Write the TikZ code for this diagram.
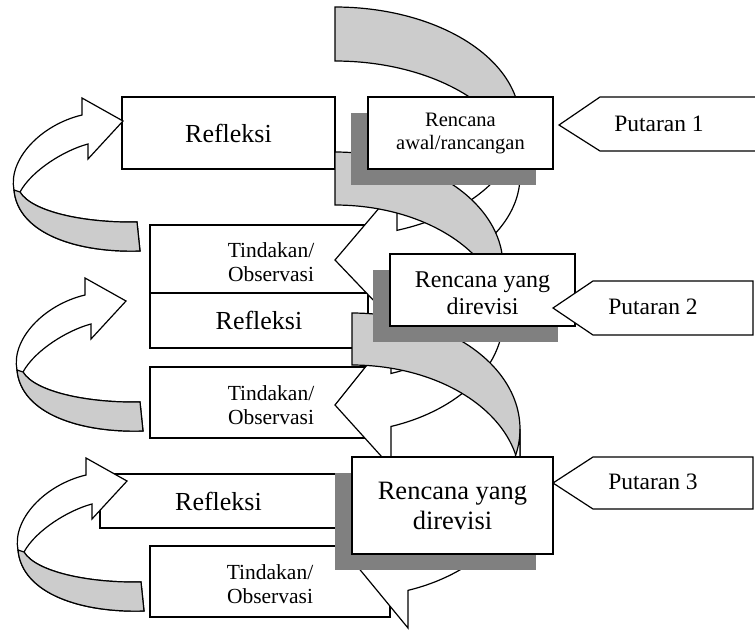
\documentclass[tikz,border=0pt]{standalone}
\usepackage{fontspec}
\setmainfont{Liberation Serif}
\usetikzlibrary{shadows}
\definecolor{bandgray}{RGB}{204,204,204}
\definecolor{shadegray}{RGB}{128,128,128}
\tikzset{
  outl/.style={draw=black,line width=1.2pt,line join=miter},
  bandback/.style={outl,fill=bandgray},
  bandfront/.style={outl,fill=white},
  box/.style={outl,fill=white,inner sep=0pt,align=center},
  shbox/.style={box,drop shadow={shadow xshift=-17pt,shadow yshift=-16pt,fill=shadegray,opacity=1}},
  txt/.style={inner sep=0pt,align=center},
  tagshape/.style={outl,fill=white},
  fRef/.style={font=\fontsize{26}{30}\selectfont},
  fTin/.style={font=\fontsize{21.5}{24.5}\selectfont},
  fPut/.style={font=\fontsize{23.5}{27}\selectfont},
}
% curved arrow (band on the right, head pointing left)
% #1 l, #2 t, #3 w, #4 hR, #5 th, #6 x1, #7 y4, #8 tip y, #9 y8
\newcommand\cvarrow[9]{%
  \pgfmathsetmacro\cvA{#2+#4}%
  \pgfmathsetmacro\cvB{#2+#4+#5}%
  \pgfmathsetmacro\cvAl{acos((#6-#1)/#3)}%
  \pgfmathsetmacro\cvR{#1+#3}%
  \filldraw[bandback] plot[domain=-90:0,samples=50] ({#1+#3*cos(\x)},{\cvA+#4*sin(\x)})
     -- (\cvR,\cvB) -- plot[domain=0:-90,samples=50] ({#1+#3*cos(\x)},{\cvB+#4*sin(\x)}) -- cycle;
  \filldraw[bandfront] plot[domain=0:\cvAl,samples=50] ({#1+#3*cos(\x)},{\cvA+#4*sin(\x)})
     -- (#6,#7) -- (#1,#8) -- (#6,#9)
     -- plot[domain=\cvAl:0,samples=50] ({#1+#3*cos(\x)},{\cvB+#4*sin(\x)}) -- cycle;
}
% curved arrow on the left (head pointing right)
\newcommand\lcurv[2]{%
 \begin{scope}[shift={(#1,#2)}]
  \filldraw[bandfront] (82,98) -- (123,121) -- (88,159) -- (88,144)
    .. controls (65,150) and (32,170) .. (20,192)
    .. controls (32,212) and (85,223) .. (137,222)
    -- (140,251)
    .. controls (78,253) and (18,234) .. (14,190)
    .. controls (8,160) and (40,125) .. (82,115) -- cycle;
  \filldraw[bandback] (20,192)
    .. controls (32,212) and (85,223) .. (137,222)
    -- (140,251)
    .. controls (78,253) and (18,234) .. (14,190) -- cycle;
 \end{scope}}
\begin{document}
\begin{tikzpicture}[x=1pt,y=-1pt]
\useasboundingbox (0,0) rectangle (755,630);
\clip (0,0) rectangle (755,630);
\fill[white] (0,0) rectangle (755,630);

% left boxes
\node[box,fRef,minimum width=213pt,minimum height=72pt] (ref1) at (228.5,133) {Refleksi};
\node[box,minimum width=240pt,minimum height=68pt] (tin1) at (270,259) {};
\node[txt,fTin] (tin1t) at (271,262) {Tindakan/\\Observasi};
\node[box,fRef,minimum width=218pt,minimum height=55pt] (ref2) at (259,320.5) {Refleksi};
\node[box,minimum width=240pt,minimum height=71pt] (tin2) at (270,402.5) {};
\node[txt,fTin] (tin2t) at (271,405) {Tindakan/\\Observasi};
\node[box,fRef,minimum width=237pt,minimum height=54pt] (ref3) at (218.5,501) {Refleksi};
\node[box,minimum width=240pt,minimum height=71pt] (tin3) at (270,581.5) {};
\node[txt,fTin] (tin3t) at (270,584) {Tindakan/\\Observasi};

% left curved arrows
\lcurv{0}{0}
\lcurv{3}{180}
\lcurv{4}{360}

% central curved arrows
\cvarrow{335}{7}{185}{115}{54}{397}{187}{260}{325}
\cvarrow{335}{152}{168}{114}{53}{391}{335}{405}{467}
\cvarrow{352}{313}{168}{116}{52}{408}{494}{560}{628}

% plan boxes with shadows
\node[shbox,font=\fontsize{20.5}{23}\selectfont,minimum width=185pt,minimum height=72pt] (ren1) at (460.5,133) {Rencana\\awal/rancangan};
\node[shbox,minimum width=185pt,minimum height=72pt] (ren2) at (482.5,290) {};
\node[txt,font=\fontsize{24}{27}\selectfont] (ren2t) at (482.5,293) {Rencana yang\\direvisi};
\node[shbox,font=\fontsize{26.5}{30}\selectfont,minimum width=201pt,minimum height=97pt] (ren3) at (452.5,505.5) {Rencana yang\\direvisi};

% round tags
\filldraw[tagshape] (559,125) -- (600,97) -- (760,97) -- (760,151) -- (600,151) -- cycle;
\node[fPut] (put1) at (659,124) {Putaran 1};
\filldraw[tagshape] (553,308) -- (593,281) -- (753,281) -- (753,335) -- (593,335) -- cycle;
\node[fPut] (put2) at (653,307) {Putaran 2};
\filldraw[tagshape] (553,483) -- (593,457) -- (753,457) -- (753,509) -- (593,509) -- cycle;
\node[fPut] (put3) at (653,482) {Putaran 3};
\end{tikzpicture}
\end{document}
